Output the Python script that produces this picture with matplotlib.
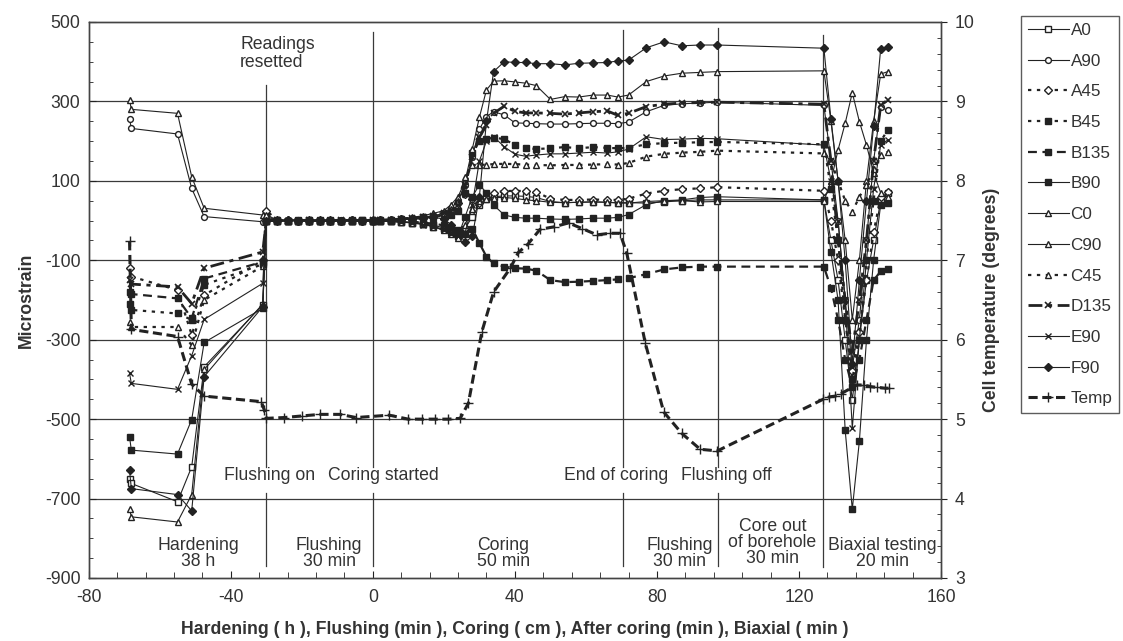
import matplotlib
matplotlib.use("Agg")
import matplotlib.pyplot as plt

plt.rcParams['font.family'] = ['Liberation Sans', 'DejaVu Sans']
plt.rcParams['axes.unicode_minus'] = False

# x positions of the strain readings, by stage
x_hardening = [-68.5, -68, -55, -51, -47.5, -31]
x_flushing = [-30, -27, -24, -21, -18, -15, -12, -9, -6, -3, 0]
x_coring = [2, 5, 8, 11, 14, 17, 20, 22, 24, 26, 28, 30, 32, 34, 37, 40, 43, 46, 50, 54, 58, 62, 66, 69]
x_after = [72, 77, 82, 87, 92, 97]
x_biaxial = [127, 129, 131, 133, 135, 137, 139, 141, 143, 145]
x_strain = x_hardening + x_flushing + x_coring + x_after + x_biaxial

# microstrain per gauge (hardening | flushing | coring | after coring | biaxial)
a0 = ([-650, -662, -708, -620, -368, -212]
      + [10, 1, 0, -1, 0, 1, 0, -1, 0, 1, 0]
      + [-1, -2, -3, -5, -8, -12, -18, -24, -30, -20, 10, 40, 55, 60, 62, 62, 61, 58, 48, 45, 46, 47, 46, 45]
      + [45, 44, 47, 50, 52, 52]
      + [52, -50, -150, -300, -452, -300, -150, -50, 50, 70])
a90 = ([255, 232, 218, 81, 10, -3]
       + [0, 1, 0, 1, 0, -1, 0, 1, 0, 0, 1]
       + [1, 2, 3, 5, 8, 12, 18, 30, 50, 90, 160, 230, 262, 274, 266, 246, 245, 244, 243, 243, 244, 245, 245, 244]
       + [248, 274, 290, 294, 296, 298]
       + [290, 150, 0, -200, -370, -250, -50, 150, 285, 278])
a45 = ([-120, -141, -175, -288, -188, -100]
       + [25, 2, 1, 0, 1, 0, 1, 0, 1, 0, 1]
       + [1, 2, 3, 4, 6, 10, 15, 25, 45, 68, 55, 45, 60, 70, 74, 75, 74, 72, 55, 52, 52, 53, 52, 52]
       + [55, 68, 75, 79, 81, 84]
       + [75, 0, -100, -250, -380, -280, -150, -30, 60, 73])
b45 = ([-210, -225, -234, -250, -162, -110]
       + [0, 0, -1, 0, 1, 0, -1, 0, 0, 1, 0]
       + [1, 2, 3, 5, 8, 10, 12, 15, 25, 70, 171, 200, 205, 209, 205, 190, 183, 180, 182, 185, 182, 185, 183, 182]
       + [183, 192, 195, 196, 197, 198]
       + [192, 80, -50, -250, -400, -300, -100, 50, 200, 228])
b135 = ([-180, -185, -196, -246, -146, -104]
        + [0, -1, 0, 0, -1, 0, 1, 0, -1, 0, 0]
        + [0, -1, -2, -3, -5, -8, -12, -18, -25, -35, -20, -57, -91, -108, -116, -120, -121, -126, -150, -155, -154, -152, -150, -148]
        + [-145, -135, -123, -118, -116, -116]
        + [-116, -170, -250, -350, -420, -350, -250, -150, -128, -123])
b90 = ([-545, -578, -588, -501, -307, -221]
       + [0, -1, 0, 1, 0, 0, -1, 0, 1, 0, 0]
       + [-1, -2, -3, -5, -8, -15, -22, -30, -40, 10, 60, 90, 70, 39, 14, 8, 6, 6, 4, 3, 4, 6, 6, 8]
       + [15, 40, 50, 52, 58, 60]
       + [52, -80, -200, -528, -727, -555, -300, -100, 40, 45])
c0 = ([-727, -746, -759, -690, -375, -210]
      + [5, 0, 1, 0, -1, 0, 0, 1, 0, -1, 0]
      + [-1, -2, -3, -5, -8, -15, -25, -35, -45, -10, 30, 50, 55, 58, 58, 56, 52, 50, 46, 45, 46, 47, 46, 44]
      + [44, 48, 50, 50, 47, 48]
      + [48, 100, 178, 245, 322, 249, 190, 120, 70, 60])
c90 = ([304, 280, 270, 110, 31, 14]
       + [15, 1, 0, 1, 0, 1, 0, 0, 1, 0, 1]
       + [1, 3, 5, 8, 12, 18, 25, 40, 60, 100, 180, 260, 329, 351, 352, 349, 346, 340, 305, 312, 311, 316, 316, 311]
       + [316, 350, 364, 371, 373, 375]
       + [377, 250, 100, -50, -250, -100, 100, 250, 369, 375])
c45 = ([-255, -268, -268, -314, -200, -115]
       + [0, 1, 0, 0, 1, 0, -1, 0, 0, 1, 0]
       + [1, 2, 4, 6, 10, 15, 20, 30, 50, 110, 140, 140, 141, 142, 143, 142, 141, 140, 139, 140, 140, 141, 142, 141]
       + [145, 161, 168, 171, 173, 176]
       + [169, 150, 100, 50, 22, 60, 89, 130, 165, 173])
d135 = ([-150, -160, -167, -209, -120, -79]
        + [0, 1, 0, 0, 1, 0, 0, 1, 0, 0, 1]
        + [1, 2, 4, 6, 8, 12, 18, 25, 40, 90, 160, 210, 240, 270, 288, 275, 271, 271, 270, 268, 271, 274, 276, 265]
        + [270, 287, 293, 296, 297, 298]
        + [293, 150, -50, -200, -330, -200, -50, 150, 290, 304])
e90 = ([-385, -410, -425, -340, -249, -158]
       + [0, -1, 0, 0, -1, 0, 0, -1, 0, 0, 0]
       + [-1, -2, -4, -6, -10, -15, -25, -35, -40, -30, 40, 150, 200, 211, 186, 167, 162, 165, 168, 168, 170, 172, 170, 173]
       + [180, 211, 204, 205, 207, 206]
       + [190, 100, 0, -200, -523, -300, -100, 80, 190, 203])
f90 = ([-629, -675, -690, -731, -393, -217]
       + [0, 0, 1, 0, 0, 1, 0, 0, 1, 0, 0]
       + [1, 2, 3, 4, 6, 8, 4, -10, -30, -55, -40, 60, 250, 375, 400, 398, 398, 395, 395, 392, 396, 397, 398, 402]
       + [404, 435, 450, 440, 442, 442]
       + [434, 255, 100, -100, -360, -150, 50, 238, 433, 438])

# cell temperature (degrees)
x_temp = [-68.5, -68, -55, -51, -47.5, -31.4, -30.6, -30, -25, -20, -14.8, -9.3, -4.7, 4.6, 10, 13.8,
          17.6, 21.3, 24.6, 26.9, 30.7, 34, 38.7, 41, 43.6, 47.1, 50.9, 55.1, 58.9, 63.1, 66.8, 69.6,
          71.5, 76.7, 81.9, 87, 92.2, 97, 126.8, 128.5, 130.2, 131.8, 136.3, 138.2, 140.1, 142, 144.2, 145.2]
temp = [7.24, 6.13, 6.04, 5.44, 5.29, 5.22, 5.12, 5.01, 5.02, 5.04, 5.06, 5.06, 5.02, 5.05, 5.0, 5.0,
        5.0, 5.0, 5.01, 5.2, 6.1, 6.6, 6.9, 7.1, 7.2, 7.39, 7.42, 7.47, 7.4, 7.32, 7.34, 7.34,
        7.09, 5.96, 5.09, 4.82, 4.62, 4.6, 5.25, 5.28, 5.29, 5.32, 5.43, 5.43, 5.41, 5.4, 5.39, 5.39]

ink = '#222222'
txt = '#333333'
fs = 12.7

fig = plt.figure(figsize=(11.23, 6.41), dpi=100)
ax = fig.add_axes([0.079, 0.0983, 0.759, 0.8674])
ax2 = ax.twinx()

# horizontal grid and stage boundaries
for g in [300, 100, -100, -300, -500, -700]:
    ax.axhline(g, color='#3a3a3a', lw=0.9, zorder=1)
for xb, top in [(-30, 341), (0, 475), (70.5, 480), (97.3, 485)]:
    ax.plot([xb, xb], [top, -621], color='#3a3a3a', lw=0.9, zorder=1)
    ax.plot([xb, xb], [-686, -870], color='#3a3a3a', lw=0.9, zorder=1)
ax.plot([126.7, 126.7], [467, -873], color='#3a3a3a', lw=0.9, zorder=1)

solid = dict(color=ink, lw=0.8, ms=4.2)
series = [
    ('A0', a0, dict(ls='-', marker='s', mfc='white', **solid)),
    ('A90', a90, dict(ls='-', marker='o', mfc='white', **solid)),
    ('A45', a45, dict(ls=(0, (1.5, 2.5)), marker='D', mfc='white', color=ink, lw=1.6, ms=4)),
    ('B45', b45, dict(ls=(0, (1.5, 2.5)), marker='s', mfc=ink, color=ink, lw=1.6, ms=4.5)),
    ('B135', b135, dict(ls=(0, (4, 2.5)), marker='s', mfc=ink, color=ink, lw=1.6, ms=4.5)),
    ('B90', b90, dict(ls='-', marker='s', mfc=ink, **solid)),
    ('C0', c0, dict(ls='-', marker='^', mfc='white', **solid)),
    ('C90', c90, dict(ls='-', marker='^', mfc='white', **solid)),
    ('C45', c45, dict(ls=(0, (1.5, 2.5)), marker='^', mfc='white', color=ink, lw=1.6, ms=4.5)),
    ('D135', d135, dict(ls=(0, (5, 2, 1.5, 2)), marker='x', color=ink, lw=2.0, ms=4.5, mew=1.2)),
    ('E90', e90, dict(ls='-', marker='x', mew=1.0, **solid)),
    ('F90', f90, dict(ls='-', marker='D', mfc=ink, color=ink, lw=0.8, ms=3.8)),
]
handles = []
for name, vals, kw in series:
    h, = ax.plot(x_strain, vals, label=name, zorder=3, **kw)
    handles.append(h)

ht, = ax2.plot(x_temp, temp, label='Temp', color=ink, lw=2.2, ls=(0, (3, 1.5)),
               marker='+', ms=7, mew=1.0, zorder=3)
handles.append(ht)

# axes
ax.set_xlim(-80, 160)
ax.set_ylim(-900, 500)
ax2.set_ylim(3, 10)
ax.set_xticks([-80, -40, 0, 40, 80, 120, 160])
ax.set_xticks(list(range(-80, 161, 8)), minor=True)
ax.set_yticks(list(range(-900, 501, 200)))
ax.set_yticks(list(range(-900, 501, 50)), minor=True)
ax2.set_yticks(list(range(3, 11)))
ax2.set_yticks([3 + 0.2 * i for i in range(36)], minor=True)

ax.tick_params(axis='both', which='both', direction='in', colors=ink, labelcolor=txt, labelsize=fs)
ax.tick_params(axis='x', which='major', length=5, pad=8)
ax.tick_params(axis='x', which='minor', length=4)
ax.tick_params(axis='y', which='major', length=5, pad=6)
ax.tick_params(axis='y', which='minor', length=3)
ax2.tick_params(axis='y', which='major', direction='out', length=4, labelsize=fs, labelcolor=txt, colors=ink, pad=6)
ax2.tick_params(axis='y', which='minor', direction='in', length=3, colors=ink)
for a in (ax, ax2):
    for sp in a.spines.values():
        sp.set_color('#444444')
        sp.set_linewidth(1.0)

ax.set_ylabel('Microstrain', fontsize=fs, fontweight='bold', color=txt, labelpad=7)
ax2.set_ylabel('Cell temperature (degrees)', fontsize=fs, fontweight='bold', color=txt, labelpad=6)
ax.set_xlabel('Hardening ( h ), Flushing (min ), Coring ( cm ), After coring (min ), Biaxial ( min )',
              fontsize=fs, fontweight='bold', color=txt, labelpad=11)

# annotations
ax.text(-37.4, 420, 'Readings\nresetted', ha='left', va='center', fontsize=fs, color=txt, linespacing=1.05)
for label, xt in [('Flushing on', -29.2), ('Coring started', 2.9), ('End of coring', 68.4), ('Flushing off', 99.5)]:
    ax.text(xt, -643, label, ha='center', va='center', fontsize=fs, color=txt)
for label, xt, yt in [('Hardening\n38 h', -49.2, -839), ('Flushing\n30 min', -12.3, -839),
                      ('Coring\n50 min', 36.7, -839), ('Flushing\n30 min', 86.3, -839),
                      ('Core out\nof borehole\n30 min', 112.5, -811), ('Biaxial testing\n20 min', 143.5, -839)]:
    ax.text(xt, yt, label, ha='center', va='center', fontsize=fs, color=txt, linespacing=0.95)

leg = fig.legend(handles=handles, loc='upper left', bbox_to_anchor=(1021 / 1123, 1 - 16 / 641),
                 fontsize=12.3, frameon=True, fancybox=False, edgecolor='#333333',
                 labelspacing=0.92, handlelength=2.4, handletextpad=0.1, borderpad=0.4,
                 borderaxespad=0)
leg.get_frame().set_linewidth(1.0)
for t in leg.get_texts():
    t.set_color(txt)

fig.savefig('out.png', dpi=100)
